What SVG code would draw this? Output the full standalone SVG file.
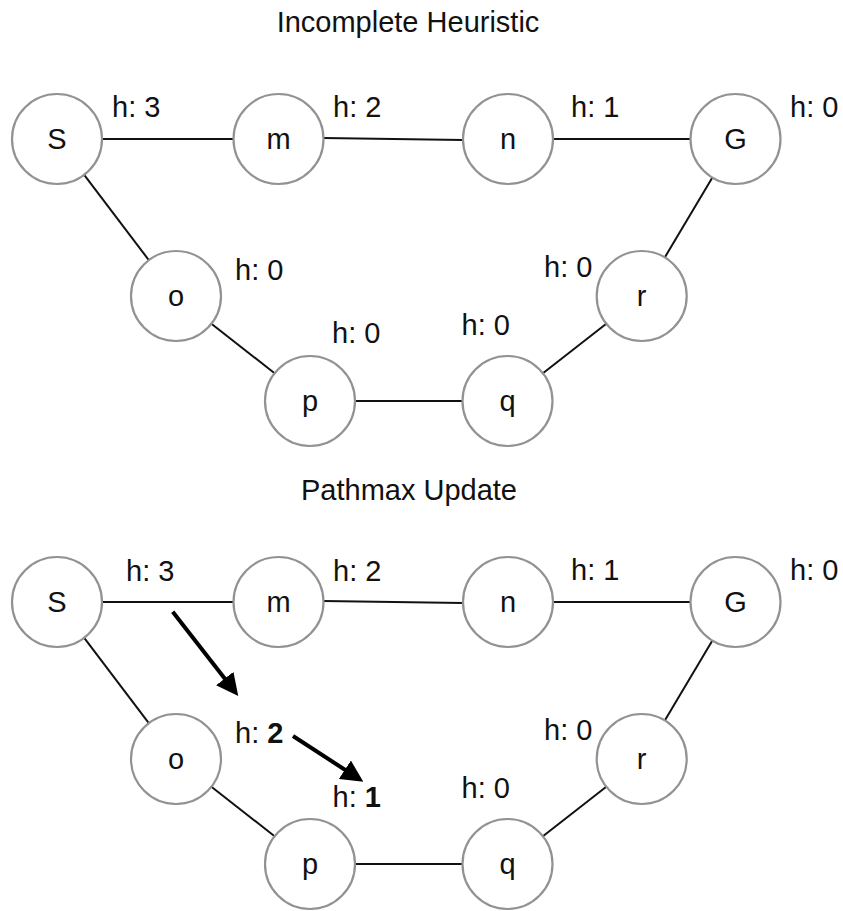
<svg xmlns="http://www.w3.org/2000/svg" width="843" height="911" viewBox="0 0 843 911">
<style>
text{font-family:"Liberation Sans",Arial,Helvetica,sans-serif;font-size:29px;fill:#111}
.title{text-anchor:middle}
.node circle{fill:#fff;stroke:#929292;stroke-width:2.2}
.node text{text-anchor:middle}
.edge{stroke:#111;stroke-width:2;fill:none}
.arrow{stroke:#000;stroke-width:4;fill:none;marker-end:url(#ah)}
.b{font-weight:bold}
</style>
<defs>
<marker id="ah" markerUnits="userSpaceOnUse" markerWidth="22" markerHeight="22" refX="11" refY="11" orient="auto" viewBox="0 0 22 22">
<path d="M0,0 L22,11 L0,22 z" fill="#000"/>
</marker>
</defs>
<rect width="843" height="911" fill="#fff"/>

<text class="title" x="408" y="32">Incomplete Heuristic</text>
<text class="title" x="409" y="500">Pathmax Update</text>

<g id="connectors-top">
<line class="edge" x1="102" y1="139" x2="233.5" y2="139"/>
<line class="edge" x1="323.5" y1="138" x2="463" y2="140"/>
<line class="edge" x1="553" y1="139" x2="690.5" y2="139"/>
<line class="edge" x1="84.2" y1="174.9" x2="148.8" y2="260.1"/>
<line class="edge" x1="211.4" y1="323.8" x2="274.6" y2="373.2"/>
<line class="edge" x1="355" y1="401" x2="462.5" y2="401"/>
<line class="edge" x1="542.9" y1="373.3" x2="606.3" y2="323.7"/>
<line class="edge" x1="664.8" y1="257.4" x2="712.4" y2="177.4"/>
</g>

<g id="top-S" class="node"><circle cx="57" cy="139" r="45"/><text x="57" y="149">S</text></g>
<g id="top-m" class="node"><circle cx="278.5" cy="139" r="45"/><text x="278.5" y="149">m</text></g>
<g id="top-n" class="node"><circle cx="508" cy="139" r="45"/><text x="508" y="149">n</text></g>
<g id="top-G" class="node"><circle cx="735.5" cy="139" r="45"/><text x="735.5" y="149">G</text></g>
<g id="top-o" class="node"><circle cx="176" cy="296" r="45"/><text x="176" y="306">o</text></g>
<g id="top-p" class="node"><circle cx="310" cy="401" r="45"/><text x="310" y="411">p</text></g>
<g id="top-q" class="node"><circle cx="507.5" cy="401" r="45"/><text x="507.5" y="411">q</text></g>
<g id="top-r" class="node"><circle cx="641.7" cy="296" r="45"/><text x="641.7" y="306">r</text></g>

<g id="top-labels">
<text x="112" y="117">h: 3</text>
<text x="333" y="117">h: 2</text>
<text x="571" y="117">h: 1</text>
<text x="790" y="117">h: 0</text>
<text x="235" y="280">h: 0</text>
<text x="332" y="343">h: 0</text>
<text x="461.5" y="335">h: 0</text>
<text x="544" y="277">h: 0</text>
</g>

<g id="connectors-bottom" transform="translate(0,463)">
<line class="edge" x1="102" y1="139" x2="233.5" y2="139"/>
<line class="edge" x1="323.5" y1="138" x2="463" y2="140"/>
<line class="edge" x1="553" y1="139" x2="690.5" y2="139"/>
<line class="edge" x1="84.2" y1="174.9" x2="148.8" y2="260.1"/>
<line class="edge" x1="211.4" y1="323.8" x2="274.6" y2="373.2"/>
<line class="edge" x1="355" y1="401" x2="462.5" y2="401"/>
<line class="edge" x1="542.9" y1="373.3" x2="606.3" y2="323.7"/>
<line class="edge" x1="664.8" y1="257.4" x2="712.4" y2="177.4"/>
</g>

<g transform="translate(0,463)">
<g id="bot-S" class="node"><circle cx="57" cy="139" r="45"/><text x="57" y="149">S</text></g>
<g id="bot-m" class="node"><circle cx="278.5" cy="139" r="45"/><text x="278.5" y="149">m</text></g>
<g id="bot-n" class="node"><circle cx="508" cy="139" r="45"/><text x="508" y="149">n</text></g>
<g id="bot-G" class="node"><circle cx="735.5" cy="139" r="45"/><text x="735.5" y="149">G</text></g>
<g id="bot-o" class="node"><circle cx="176" cy="296" r="45"/><text x="176" y="306">o</text></g>
<g id="bot-p" class="node"><circle cx="310" cy="401" r="45"/><text x="310" y="411">p</text></g>
<g id="bot-q" class="node"><circle cx="507.5" cy="401" r="45"/><text x="507.5" y="411">q</text></g>
<g id="bot-r" class="node"><circle cx="641.7" cy="296" r="45"/><text x="641.7" y="306">r</text></g>

<g id="bot-labels">
<text x="126" y="118">h: 3</text>
<text x="333" y="118">h: 2</text>
<text x="571" y="117">h: 1</text>
<text x="790" y="117">h: 0</text>
<text x="235" y="280">h: <tspan class="b">2</tspan></text>
<text x="332.5" y="344">h: <tspan class="b">1</tspan></text>
<text x="461.5" y="335">h: 0</text>
<text x="544" y="277">h: 0</text>
</g>
</g>

<g id="pathmax-arrows">
<line class="arrow" x1="172.7" y1="611.7" x2="231.5" y2="687.3"/>
<line class="arrow" x1="293" y1="736" x2="354.1" y2="775.7"/>
</g>
</svg>
